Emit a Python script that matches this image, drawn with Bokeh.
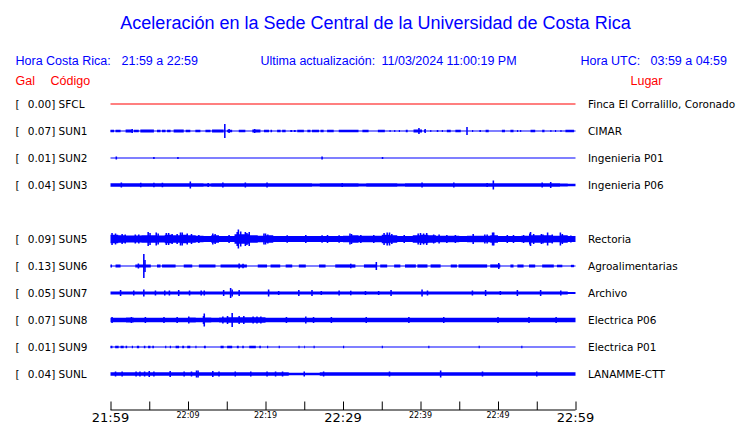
from bokeh.plotting import figure
from bokeh.models import Range1d
from bokeh.core.properties import value
from bokeh.embed import file_html
from bokeh.resources import INLINE

# ---------------- texts ----------------
TITLE = "Aceleración en la Sede Central de la Universidad de Costa Rica"
HDR_LABELS = ["Hora Costa Rica:", "Ultima actualización:", "Hora UTC:"]
HDR_VALUES = ["21:59 a 22:59", "11/03/2024 11:00:19 PM", "03:59 a 04:59"]
COL_HEADS = ["Gal", "Código", "Lugar"]

# ---------------- stations ----------------
codes = ["SFCL", "SUN1", "SUN2", "SUN3", "SUN5", "SUN6", "SUN7", "SUN8", "SUN9", "SUNL"]
row_index = [0, 1, 2, 3, 5, 6, 7, 8, 9, 10]
gal = [0.00, 0.07, 0.01, 0.04, 0.09, 0.13, 0.05, 0.07, 0.01, 0.04]
places = ["Finca El Corralillo, Coronado", "CIMAR", "Ingenieria P01", "Ingenieria P06",
          "Rectoria", "Agroalimentarias", "Archivo", "Electrica P06", "Electrica P01",
          "LANAMME-CTT"]

# time axis (minutes after 21:59)
tick_minutes = [0, 5, 10, 15, 20, 25, 30, 35, 40, 45, 50, 55, 60]
big_tick_minutes = [0, 30, 60]
big_tick_labels = ["21:59", "22:29", "22:59"]
small_tick_minutes = [10, 20, 40, 50]
small_tick_labels = ["22:09", "22:19", "22:39", "22:49"]

# ---------------- trace envelopes (half amplitude per minute) ----------------
SFCL_band = [0.5] * 60
SFCL_blocks = []
SFCL_spikes = []

SUN1_band = [0.5] * 60
SUN1_blocks = [(0.0, 0.45, 1.3), (0.65, 1.3, 1.2), (1.95, 2.8, 1.5), (3.0, 3.65, 1.3), (3.85, 5.6, 1.5),
               (6.0, 6.45, 1.2), (6.65, 7.1, 1.2), (7.3, 7.75, 1.2), (8.15, 9.45, 1.5), (9.7, 10.3, 1.3),
               (10.95, 11.6, 1.2), (12.25, 12.9, 1.2), (13.1, 14.6, 1.5), (15.05, 15.7, 1.3),
               (16.55, 17.4, 1.3), (18.3, 19.35, 1.5), (19.8, 20.45, 1.2), (20.65, 20.85, 1.2),
               (21.5, 21.95, 1.2), (22.15, 22.6, 1.2), (23.2, 23.45, 1.0), (23.65, 23.9, 1.0),
               (24.1, 24.95, 1.3), (25.4, 25.8, 1.2), (26.0, 26.9, 1.3), (27.1, 27.5, 1.2),
               (27.95, 28.8, 1.3), (29.45, 32.0, 1.3), (32.5, 33.3, 1.2), (34.5, 35.4, 1.2),
               (36.0, 36.15, 1.0), (36.6, 36.75, 1.0), (37.2, 37.35, 1.0), (38.1, 38.35, 1.2),
               (39.1, 40.2, 1.4), (40.45, 40.6, 1.0), (41.25, 41.4, 1.0), (42.1, 42.3, 1.0),
               (42.75, 42.9, 1.0), (43.4, 43.9, 1.2), (44.5, 45.2, 1.2), (46.65, 46.8, 1.0),
               (47.6, 47.8, 1.0), (48.4, 48.8, 1.2), (50.5, 50.9, 1.2), (51.6, 52.0, 1.2),
               (52.45, 52.6, 1.0), (52.85, 53.0, 1.0), (54.2, 54.8, 1.3), (55.7, 56.0, 1.2),
               (56.75, 56.9, 1.0), (57.35, 57.5, 1.0), (58.05, 58.2, 1.0), (58.7, 59.8, 1.3)]
SUN1_spikes = [(2.8, 2.0), (14.75, 7.0), (15.3, 2.0), (18.6, 2.0), (39.8, 3.0), (40.6, 2.0), (46.0, 4.0)]

SUN2_band = [0.5] * 60
SUN2_blocks = []
SUN2_spikes = [(0.75, 1.5), (5.6, 1.0), (8.7, 1.0), (27.3, 1.5), (35.1, 1.0)]

SUN3_band = [1.7, 1.7, 1.7, 1.7, 1.7, 1.7, 1.7, 1.7, 1.7, 1.7,
             1.7, 1.7, 1.5, 1.7, 1.7, 1.7, 1.7, 1.7, 1.7, 1.7,
             1.7, 1.7, 1.7, 1.7, 1.7, 1.7, 1.5, 1.7, 1.7, 1.7,
             1.7, 1.7, 1.6, 1.7, 1.7, 1.7, 1.7, 1.6, 1.7, 1.7,
             1.7, 1.7, 1.7, 1.7, 1.7, 1.7, 1.7, 1.7, 1.7, 1.7,
             1.7, 1.7, 1.7, 1.7, 1.7, 1.7, 1.7, 1.7, 1.6, 1.3]
SUN3_blocks = []
SUN3_spikes = [(1.4, 2.5), (3.9, 2.3), (5.6, 2.3), (6.7, 2.3), (10.3, 3.5), (12.6, 2.0), (14.5, 2.5),
               (17.4, 2.5), (20.2, 2.5), (29.9, 2.0), (40.2, 2.5), (44.3, 2.5), (48.6, 2.0),
               (49.4, 4.5), (55.7, 2.5), (56.8, 3.0)]

SUN5_band = [4.3, 3.8, 3.5, 3.5, 3.8, 3.8, 3.5, 4.3, 3.8, 4.3,
             3.8, 3.3, 3.1, 3.8, 3.1, 3.1, 4.8, 4.8, 3.8, 3.3,
             3.8, 3.0, 3.0, 3.0, 3.0, 3.1, 3.0, 3.0, 3.1, 3.0,
             3.3, 3.8, 3.3, 3.3, 3.3, 4.3, 3.8, 3.1, 3.1, 3.8,
             4.3, 3.8, 3.3, 3.3, 3.3, 3.1, 3.3, 3.3, 3.3, 3.8,
             3.1, 3.1, 3.1, 3.3, 3.8, 3.8, 3.8, 3.3, 3.8, 3.1]
SUN5_blocks = []
SUN5_spikes = [(0.2, 6.0), (0.65, 5.5), (1.5, 5.0), (1.9, 4.5), (3.2, 4.5), (3.65, 4.5), (4.86, 7.0),
               (5.1, 6.0), (5.9, 6.5), (6.15, 5.5), (7.2, 6.0), (7.5, 6.0), (7.95, 5.0), (8.6, 5.0),
               (9.03, 6.5), (9.25, 6.5), (9.9, 5.5), (10.45, 5.0), (11.4, 4.0), (13.2, 5.5), (13.5, 5.0),
               (15.3, 4.0), (16.35, 7.0), (16.5, 9.5), (16.8, 7.5), (17.4, 7.0), (17.6, 6.0), (17.9, 7.0),
               (19.8, 5.5), (20.0, 5.5), (20.3, 4.5), (22.8, 3.8), (25.2, 4.0), (27.3, 3.8), (28.0, 4.0),
               (29.5, 3.8), (30.9, 5.5), (31.1, 5.0), (32.3, 4.0), (33.97, 4.0), (35.3, 6.0), (35.7, 6.5),
               (36.0, 6.5), (36.3, 5.0), (37.9, 4.0), (39.7, 5.5), (40.0, 6.0), (40.4, 5.5), (40.8, 6.0),
               (41.7, 4.5), (42.4, 4.5), (43.4, 4.0), (44.5, 4.0), (46.8, 5.0), (48.3, 4.5), (48.6, 4.5),
               (49.3, 6.5), (49.45, 6.5), (51.2, 4.0), (52.0, 4.0), (53.3, 4.0), (54.1, 5.5), (54.2, 7.0),
               (54.6, 5.0), (55.6, 5.0), (55.8, 4.5), (56.4, 6.5), (57.0, 4.5), (58.05, 6.5), (58.3, 5.0),
               (59.4, 3.5)]

SUN6_band = [0.5] * 60
SUN6_blocks = [(0.0, 0.2, 1.5), (0.65, 1.3, 1.5), (3.2, 5.2, 1.6), (6.0, 6.45, 1.5), (6.65, 8.4, 1.6),
               (9.45, 10.55, 1.5), (11.4, 13.55, 1.6), (14.2, 17.6, 1.6), (19.0, 20.2, 1.5),
               (20.65, 21.9, 1.5), (22.6, 23.45, 1.5), (24.3, 25.2, 1.5), (26.9, 27.75, 1.5),
               (29.0, 31.6, 1.6), (32.7, 34.4, 1.6), (34.8, 35.7, 1.5), (36.6, 37.4, 1.5),
               (38.0, 39.4, 1.6), (39.6, 40.9, 1.6), (41.3, 42.6, 1.6), (43.9, 44.7, 1.5),
               (44.9, 48.6, 1.6), (49.0, 50.3, 1.6), (51.6, 52.0, 1.5), (52.5, 53.3, 1.5),
               (54.0, 54.8, 1.5), (55.7, 57.2, 1.5), (57.6, 58.3, 1.3), (59.4, 59.8, 1.2)]
SUN6_spikes = [(3.6, 2.5), (4.3, 12.0), (4.45, 6.0), (16.6, 2.5), (17.1, 2.3), (31.0, 2.3), (34.3, 4.0),
               (50.1, 3.0)]

SUN7_band = [1.6] * 59 + [1.0]
SUN7_blocks = []
SUN7_spikes = [(1.3, 3.0), (3.0, 2.5), (4.3, 3.5), (5.8, 2.5), (7.0, 2.5), (7.6, 2.5), (8.8, 3.0),
               (10.2, 2.5), (11.7, 2.5), (12.1, 2.5), (14.6, 3.0), (15.5, 5.0), (15.7, 3.5), (16.6, 3.0),
               (20.4, 3.5), (21.7, 2.0), (24.3, 3.0), (26.0, 3.0), (27.2, 2.0), (29.5, 2.5), (31.0, 2.3),
               (32.9, 2.0), (34.6, 2.0), (36.2, 3.0), (40.2, 3.5), (40.9, 2.5), (46.7, 2.5), (48.4, 3.0),
               (50.3, 2.0), (52.5, 3.0), (55.5, 3.0), (58.1, 2.5)]

SUN8_band = [2.3, 2.2, 2.4, 2.2, 2.3, 2.2, 2.2, 2.3, 2.3, 2.2,
             2.4, 2.3, 2.5, 2.3, 2.4, 2.8, 2.8, 2.8, 2.8, 2.8,
             2.3, 2.2, 2.3, 2.2, 2.2, 2.3, 2.3, 2.2, 2.3, 2.2,
             2.2, 2.2, 2.2, 2.3, 2.2, 2.2, 2.2, 2.3, 2.2, 2.2,
             2.3, 2.2, 2.2, 2.2, 2.3, 2.2, 2.2, 2.2, 2.3, 2.2,
             2.2, 2.2, 2.3, 2.2, 2.2, 2.2, 2.3, 2.2, 2.2, 2.2]
SUN8_blocks = []
SUN8_spikes = [(0.2, 3.0), (2.7, 3.0), (4.5, 3.0), (6.9, 3.0), (8.6, 3.0), (10.1, 3.5), (12.0, 4.0),
               (12.1, 6.5), (14.5, 3.5), (15.1, 4.0), (15.7, 7.0), (16.6, 4.0), (17.2, 4.0), (18.4, 3.5),
               (18.9, 3.5), (19.4, 3.5), (22.7, 3.0), (25.2, 3.5), (26.2, 3.0), (28.5, 3.0), (33.0, 3.0),
               (38.5, 3.0), (43.0, 3.0), (50.0, 3.0), (54.0, 3.0), (57.5, 3.0)]

SUN9_band = [0.5] * 60
SUN9_blocks = [(0.0, 0.25, 1.2), (0.6, 1.05, 1.2), (1.3, 1.7, 1.2), (1.95, 2.15, 1.2), (2.75, 2.9, 1.2),
               (3.4, 3.7, 1.2), (4.3, 4.5, 1.2), (4.85, 5.15, 1.2), (5.4, 5.6, 1.2), (7.05, 7.2, 1.2),
               (7.65, 7.8, 1.2), (8.4, 8.85, 1.2), (9.25, 9.5, 1.2), (9.9, 10.3, 1.2), (10.95, 11.1, 1.2),
               (12.05, 12.3, 1.2), (14.2, 14.6, 1.2), (15.05, 15.7, 1.2), (16.3, 16.55, 1.2),
               (17.0, 17.2, 1.2), (17.9, 18.75, 1.2), (19.2, 19.4, 1.2), (20.2, 20.35, 1.2),
               (21.7, 21.85, 1.2), (24.25, 24.4, 1.2), (25.0, 25.1, 1.2), (26.2, 26.35, 1.2),
               (30.0, 30.15, 1.2), (35.0, 35.15, 1.2), (41.0, 41.15, 1.2), (47.5, 47.65, 1.2),
               (53.0, 53.15, 1.2)]
SUN9_spikes = []

SUNL_band = [1.7, 1.7, 1.7, 1.7, 1.7, 1.7, 1.7, 1.7, 1.7, 1.7,
             1.7, 1.7, 1.7, 1.7, 1.7, 1.7, 1.7, 1.7, 1.7, 1.7,
             1.7, 1.7, 1.7, 1.3, 1.3, 1.3, 1.3, 1.7, 1.7, 1.7,
             1.7, 1.7, 1.7, 1.7, 1.7, 1.7, 1.7, 1.7, 1.7, 1.7,
             1.7, 1.7, 1.7, 1.7, 1.7, 1.7, 1.7, 1.7, 1.7, 1.7,
             1.7, 1.7, 1.7, 1.7, 1.7, 1.7, 1.7, 1.7, 1.7, 1.7]
SUNL_blocks = []
SUNL_spikes = [(0.65, 2.5), (1.5, 2.5), (3.3, 2.5), (3.8, 2.5), (4.4, 2.5), (5.0, 3.0), (5.6, 2.5),
               (7.7, 3.0), (9.5, 2.5), (10.45, 2.5), (11.1, 3.5), (11.3, 3.5), (13.2, 3.0), (14.0, 2.5),
               (16.1, 2.5), (18.1, 2.5), (20.2, 2.5), (21.3, 2.5), (22.2, 2.5), (25.0, 2.5), (27.5, 2.5),
               (36.0, 2.5), (42.6, 3.5), (48.0, 2.5), (55.0, 2.5)]

bands = [SFCL_band, SUN1_band, SUN2_band, SUN3_band, SUN5_band, SUN6_band, SUN7_band, SUN8_band,
         SUN9_band, SUNL_band]
blocks = [SFCL_blocks, SUN1_blocks, SUN2_blocks, SUN3_blocks, SUN5_blocks, SUN6_blocks, SUN7_blocks,
          SUN8_blocks, SUN9_blocks, SUNL_blocks]
spikes = [SFCL_spikes, SUN1_spikes, SUN2_spikes, SUN3_spikes, SUN5_spikes, SUN6_spikes, SUN7_spikes,
          SUN8_spikes, SUN9_spikes, SUNL_spikes]
trace_colors = ["#ff0000"] + ["#0000ff"] * 9

# ---------------- layout (page pixel space) ----------------
W, H = 740, 423
X0 = 110                # page x of minute 0
PX_PER_MIN = 7.75       # pixels per minute
ROW0 = 103.5            # page y of first trace
ROW_STEP = 27
SPIKE_W = 0.2           # minutes


def mx(px):
    return (px - X0) / PX_PER_MIN


p = figure(width=W, height=H, output_backend="svg", toolbar_location=None,
           x_range=Range1d(mx(0), mx(W)), y_range=Range1d(H, 0),
           x_axis_type=None, y_axis_type=None, min_border=0)
p.outline_line_color = None
p.grid.visible = False
p.background_fill_color = "white"

BLUE = "#0000ff"
RED = "#ff0000"
ARIAL = value("Liberation Sans")
DEJA = value("DejaVu Sans")

# title and header
p.text(x=[mx(375)], y=[22], text=[TITLE], text_font=ARIAL, text_font_size="18px",
       text_color=BLUE, text_align="center", text_baseline="middle")
p.text(x=[mx(15), mx(260), mx(580)], y=[60.5] * 3, text=HDR_LABELS, text_font=ARIAL,
       text_font_size="12.5px", text_color=BLUE, text_baseline="middle")
p.text(x=[mx(121), mx(381), mx(650)], y=[60.5] * 3, text=HDR_VALUES, text_font=ARIAL,
       text_font_size="12.5px", text_color=BLUE, text_baseline="middle")
p.text(x=[mx(15), mx(50), mx(630)], y=[80] * 3, text=COL_HEADS, text_font=ARIAL,
       text_font_size="12.5px", text_color=RED, text_baseline="middle")

# traces
for i, code in enumerate(codes):
    yc = ROW0 + ROW_STEP * row_index[i]
    band = bands[i]
    col = trace_colors[i]
    xs, ys = [], []
    for k, a in enumerate(band):
        xs += [k, k + 1]
        ys += [yc - a, yc - a]
    for k in range(len(band) - 1, -1, -1):
        xs += [k + 1, k]
        ys += [yc + band[k], yc + band[k]]
    p.patch(xs, ys, fill_color=col, line_color=None)
    if blocks[i]:
        b = blocks[i]
        p.quad(left=[t[0] for t in b], right=[t[1] for t in b],
               top=[yc - t[2] for t in b], bottom=[yc + t[2] for t in b],
               fill_color=col, line_color=None)
    if spikes[i]:
        s = spikes[i]
        p.quad(left=[t[0] - SPIKE_W / 2 for t in s], right=[t[0] + SPIKE_W / 2 for t in s],
               top=[yc - t[1] for t in s], bottom=[yc + t[1] for t in s],
               fill_color=col, line_color=None)

# left & right labels
ys_lab = [ROW0 + ROW_STEP * r for r in row_index]
p.text(x=[mx(15)] * len(codes), y=ys_lab, text=["["] * len(codes), text_font=DEJA,
       text_font_size="10.5px", text_color="black", text_baseline="middle")
p.text(x=[mx(27.3)] * len(codes), y=ys_lab, text=[f"{g:.2f}] {c}" for g, c in zip(gal, codes)],
       text_font=DEJA, text_font_size="10.5px", text_color="black", text_baseline="middle")
p.text(x=[mx(587.5)] * len(codes), y=ys_lab, text=places, text_font=DEJA,
       text_font_size="10.5px", text_color="black", text_baseline="middle")

# time axis
AX_Y = 409.5
p.line(x=[tick_minutes[0], tick_minutes[-1]], y=[AX_Y, AX_Y], line_color="black", line_width=1)
half = 0.5 / PX_PER_MIN
p.segment(x0=[t + half for t in tick_minutes], y0=[401] * len(tick_minutes),
          x1=[t + half for t in tick_minutes], y1=[AX_Y] * len(tick_minutes),
          line_color="black", line_width=1)
p.text(x=big_tick_minutes, y=[416.5] * 3, text=big_tick_labels, text_font=DEJA,
       text_font_size="13px", text_color="black", text_align="center", text_baseline="middle")
p.text(x=small_tick_minutes, y=[415] * 4, text=small_tick_labels, text_font=DEJA,
       text_font_size="8px", text_color="black", text_align="center", text_baseline="middle")

open("out.html", "w").write(file_html(p, INLINE))
